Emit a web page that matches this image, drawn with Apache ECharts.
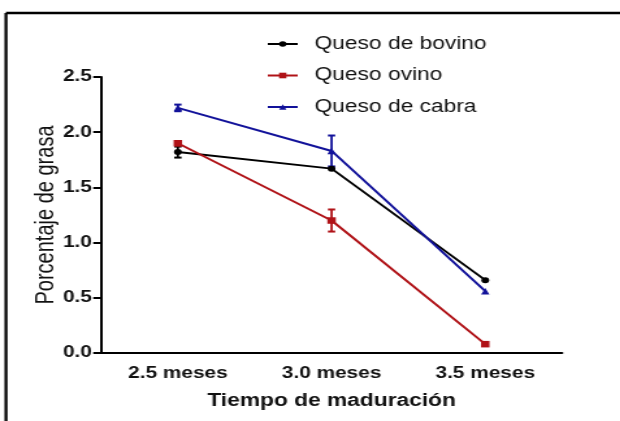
<!DOCTYPE html>
<html>
<head>
<meta charset="utf-8">
<script src="https://cdn.jsdelivr.net/npm/echarts@6/dist/echarts.min.js"></script>
<style>
html,body{margin:0;padding:0;background:#fff;overflow:hidden;}
#wrap{width:620px;height:421px;overflow:hidden;position:relative;}
#chart{width:477px;height:421px;transform:scaleX(1.3);transform-origin:0 0;}
</style>
</head>
<body>
<div id="wrap"><div id="chart"></div></div>
<script>
var categories = ['2.5 meses', '3.0 meses', '3.5 meses'];
var seriesNames = ['Queso de bovino', 'Queso ovino', 'Queso de cabra'];
var bovino = [1.82, 1.67, 0.66];
var bovinoErr = [0.05, 0.0, 0.0];
var ovino = [1.90, 1.20, 0.08];
var ovinoErr = [0.02, 0.10, 0.0];
var cabra = [2.22, 1.83, 0.56];
var cabraErr = [0.03, 0.14, 0.0];
var yTicks = [0, 0.5, 1.0, 1.5, 2.0, 2.5];

var colors = ['#000000', '#b01217', '#12129a'];
var symbols = ['circle', 'rect', 'triangle'];
var FONT = '"Liberation Sans", Arial, sans-serif';

function errSeries(vals, errs, color) {
  var data = vals.map(function (v, i) { return [i, v - errs[i], v + errs[i]]; });
  return {
    type: 'custom',
    silent: true,
    z: 3,
    data: data,
    renderItem: function (params, api) {
      var x = api.value(0);
      var lo = api.coord([x, api.value(1)]);
      var hi = api.coord([x, api.value(2)]);
      if (Math.abs(hi[1] - lo[1]) < 1) return null;
      var w = 2.8;
      var st = { stroke: color, lineWidth: 2 };
      return {
        type: 'group',
        children: [
          { type: 'line', shape: { x1: lo[0], y1: lo[1], x2: hi[0], y2: hi[1] }, style: { stroke: color, lineWidth: 1.8 } },
          { type: 'line', shape: { x1: lo[0] - w, y1: lo[1], x2: lo[0] + w, y2: lo[1] }, style: st },
          { type: 'line', shape: { x1: hi[0] - w, y1: hi[1], x2: hi[0] + w, y2: hi[1] }, style: st }
        ]
      };
    }
  };
}

function lineSeries(name, vals, color, symbol, size) {
  return {
    name: name,
    type: 'line',
    data: vals,
    symbol: symbol,
    symbolSize: size,
    showSymbol: true,
    z: 4,
    lineStyle: { color: color, width: 2 },
    itemStyle: { color: color },
    emphasis: { disabled: true }
  };
}

var chart = echarts.init(document.getElementById('chart'), null, { renderer: 'canvas', width: 477, height: 421 });
chart.setOption({
  animation: false,
  backgroundColor: '#ffffff',
  color: colors,
  graphic: [
    { type: 'line', shape: { x1: 4.6, y1: 13, x2: 477, y2: 13 }, style: { stroke: '#000', lineWidth: 2.5 } },
    { type: 'line', shape: { x1: 4.6, y1: 13, x2: 4.6, y2: 421 }, style: { stroke: '#000', lineWidth: 2.3 } }
  ],
  legend: {
    orient: 'vertical',
    left: 200,
    top: 30,
    itemWidth: 23,
    itemHeight: 7,
    itemGap: 13.5,
    data: seriesNames,
    textStyle: { fontFamily: FONT, fontSize: 17.5, color: '#111', padding: [0, 0, 0, 8] }
  },
  grid: { left: 77.7, right: 44.6, top: 77, bottom: 68 },
  xAxis: {
    type: 'category',
    data: categories,
    boundaryGap: true,
    name: 'Tiempo de maduración',
    nameLocation: 'middle',
    nameGap: 39,
    nameMoveOverlap: false,
    nameTextStyle: { fontFamily: FONT, fontSize: 17.5, fontWeight: 'bold', color: '#111' },
    axisLine: { lineStyle: { color: '#000', width: 2 } },
    axisTick: { alignWithLabel: true, length: 6, lineStyle: { color: '#000', width: 2 } },
    axisLabel: { fontFamily: FONT, fontSize: 16, fontWeight: 'bold', color: '#111', margin: 13 },
    splitLine: { show: false }
  },
  yAxis: {
    type: 'value',
    min: yTicks[0],
    max: yTicks[yTicks.length - 1],
    interval: 0.5,
    name: 'Porcentaje de grasa',
    nameLocation: 'middle',
    nameGap: 32,
    nameMoveOverlap: false,
    nameRotate: 90,
    nameTextStyle: { fontFamily: FONT, fontSize: 20, color: '#111' },
    axisLine: { show: true, lineStyle: { color: '#000', width: 2 } },
    axisTick: { show: true, length: 6, lineStyle: { color: '#000', width: 2 } },
    axisLabel: {
      fontFamily: FONT, fontSize: 16, fontWeight: 'bold', color: '#111', margin: 7,
      formatter: function (v) { return v.toFixed(1); }
    },
    splitLine: { show: false }
  },
  series: [
    lineSeries(seriesNames[0], bovino, colors[0], symbols[0], 6),
    lineSeries(seriesNames[1], ovino, colors[1], symbols[1], 6.5),
    lineSeries(seriesNames[2], cabra, colors[2], symbols[2], 6.5),
    errSeries(bovino, bovinoErr, colors[0]),
    errSeries(ovino, ovinoErr, colors[1]),
    errSeries(cabra, cabraErr, colors[2])
  ]
});
</script>
</body>
</html>
